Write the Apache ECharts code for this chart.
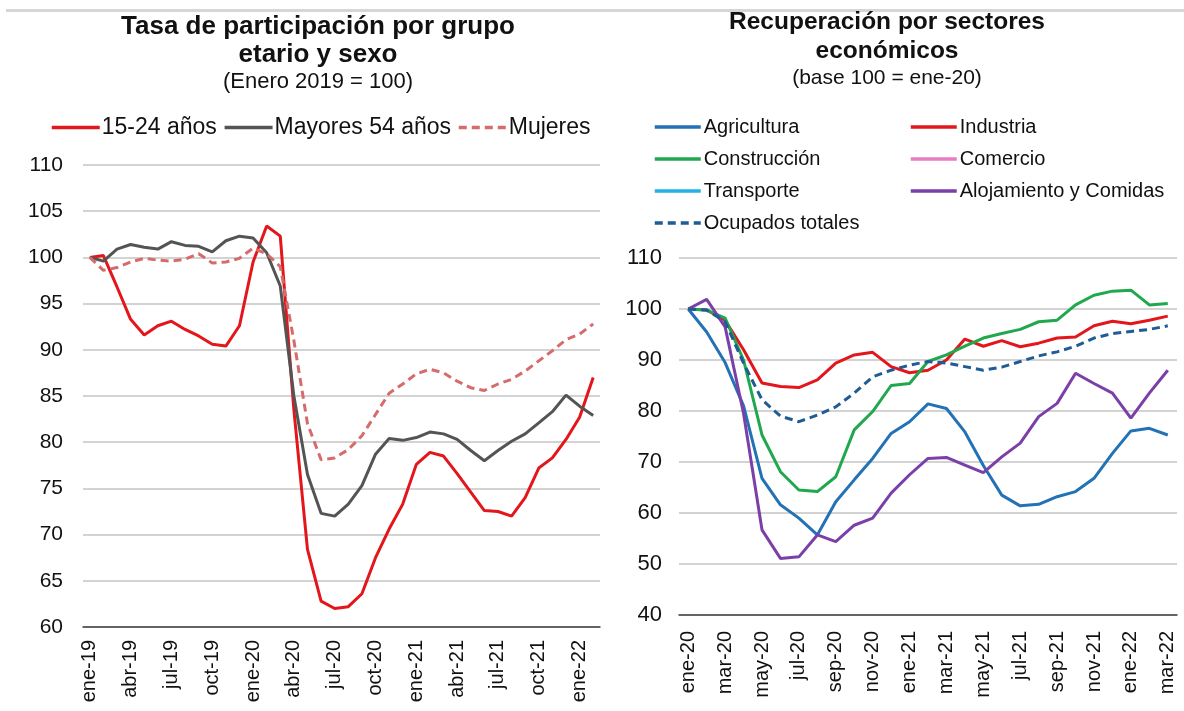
<!DOCTYPE html>
<html>
<head>
<meta charset="utf-8">
<script src="https://cdn.jsdelivr.net/npm/echarts@6/dist/echarts.min.js"></script>
<style>
html,body{margin:0;padding:0;background:#fff;}
#chart{width:1184px;height:711px;}
</style>
</head>
<body>
<div id="chart"></div>
<script>
// ---- Left chart data (Enero 2019 = 100) ----
const leftMonths = ['ene-19','feb-19','mar-19','abr-19','may-19','jun-19','jul-19','ago-19','sep-19','oct-19','nov-19','dic-19',
  'ene-20','feb-20','mar-20','abr-20','may-20','jun-20','jul-20','ago-20','sep-20','oct-20','nov-20','dic-20',
  'ene-21','feb-21','mar-21','abr-21','may-21','jun-21','jul-21','ago-21','sep-21','oct-21','nov-21','dic-21',
  'ene-22','feb-22'];
const youth15_24 = [100, 100.2, 96.8, 93.3, 91.6, 92.6, 93.1, 92.2, 91.5, 90.6, 90.4, 92.6,
  99.5, 103.4, 102.3, 83.5, 68.4, 62.8, 62.0, 62.2, 63.6, 67.5, 70.6, 73.3,
  77.6, 78.9, 78.5, 76.6, 74.6, 72.6, 72.5, 72.0, 74.0, 77.2, 78.3, 80.3,
  82.7, 87.0];
const mayores54 = [100, 99.6, 100.9, 101.4, 101.1, 100.9, 101.7, 101.3, 101.2, 100.6, 101.8, 102.3,
  102.1, 100.5, 96.9, 85.0, 76.5, 72.3, 72.0, 73.3, 75.3, 78.7, 80.4, 80.2,
  80.5, 81.1, 80.9, 80.3, 79.1, 78.0, 79.1, 80.1, 80.9, 82.1, 83.3, 85.1,
  83.9, 82.9];
const mujeres = [100, 98.6, 98.9, 99.5, 99.9, 99.7, 99.6, 99.8, 100.4, 99.4, 99.5, 99.9,
  101.0, 100.4, 99.0, 91.0, 82.0, 78.1, 78.3, 79.2, 80.7, 83.0, 85.3, 86.3,
  87.4, 87.9, 87.5, 86.6, 85.9, 85.6, 86.3, 86.8, 87.7, 88.8, 89.9, 91.1,
  91.7, 92.8];

// ---- Right chart data (base 100 = ene-20) ----
const rightMonths = ['ene-20','feb-20','mar-20','abr-20','may-20','jun-20','jul-20','ago-20','sep-20','oct-20','nov-20','dic-20',
  'ene-21','feb-21','mar-21','abr-21','may-21','jun-21','jul-21','ago-21','sep-21','oct-21','nov-21','dic-21',
  'ene-22','feb-22','mar-22'];
const agricultura = [100, 95.5, 89.5, 81.0, 66.8, 61.6, 59.0, 55.7, 62.2, 66.5, 70.7, 75.6,
  77.9, 81.4, 80.5, 75.9, 69.3, 63.5, 61.4, 61.7, 63.2, 64.2, 66.8, 71.7, 76.1, 76.6, 75.3];
const industria = [100, 99.8, 97.8, 92.0, 85.5, 84.8, 84.6, 86.1, 89.4, 91.0, 91.5, 88.7,
  87.5, 88.0, 90.0, 94.1, 92.7, 93.8, 92.6, 93.3, 94.3, 94.5, 96.7, 97.6, 97.1, 97.8, 98.6];
const construccion = [100, 99.8, 98.2, 90.0, 75.3, 68.1, 64.5, 64.2, 67.1, 76.3, 79.9, 85.0,
  85.4, 89.7, 91.0, 92.7, 94.3, 95.2, 96.0, 97.5, 97.8, 100.8, 102.7, 103.5, 103.7, 100.8, 101.1];
const comercio = [];
const transporte = [];
const alojamiento = [100, 101.9, 96.5, 79.5, 56.7, 51.1, 51.4, 55.7, 54.4, 57.6, 59.0, 63.9,
  67.5, 70.7, 70.9, 69.4, 67.9, 71.0, 73.7, 78.9, 81.5, 87.4, 85.4, 83.5, 78.6, 83.5, 88.0];
const ocupados = [100, 99.8, 97.5, 89.4, 82.2, 79.0, 77.9, 79.2, 80.8, 83.5, 86.7, 88.0,
  89.0, 89.7, 89.4, 88.7, 88.0, 88.6, 89.7, 90.8, 91.6, 92.7, 94.3, 95.2, 95.6, 96.0, 96.7];

const FONT = '"Liberation Sans", Arial, sans-serif';
const chart = echarts.init(document.getElementById('chart'));

function lineSeries(name, data, color, xi, dashed) {
  return {
    name: name, type: 'line', data: data, xAxisIndex: xi, yAxisIndex: xi,
    symbol: 'none', smooth: false,
    lineStyle: { color: color, width: 3, type: dashed ? [8, 5] : 'solid' },
    itemStyle: { color: color },
    emphasis: { disabled: true }
  };
}

const option = {
  backgroundColor: '#fff',
  animation: false,
  textStyle: { fontFamily: FONT },
  graphic: [
    { type: 'rect', shape: { x: 6, y: 9, width: 1178, height: 3 }, style: { fill: '#D6D6D6' }, silent: true }
  ],
  title: [
    { text: 'Tasa de participación por grupo\netario y sexo', left: 318, top: 13, textAlign: 'center', padding: 0,
      textStyle: { fontFamily: FONT, fontSize: 26, fontWeight: 'bold', color: '#111', lineHeight: 28 } },
    { text: '(Enero 2019 = 100)', left: 318, top: 71, textAlign: 'center', padding: 0,
      textStyle: { fontFamily: FONT, fontSize: 22, fontWeight: 'normal', color: '#111' } },
    { text: 'Recuperación por sectores\neconómicos', left: 887, top: 8, textAlign: 'center', padding: 0,
      textStyle: { fontFamily: FONT, fontSize: 24.5, fontWeight: 'bold', color: '#111', lineHeight: 29 } },
    { text: '(base 100 = ene-20)', left: 887, top: 68, textAlign: 'center', padding: 0,
      textStyle: { fontFamily: FONT, fontSize: 21, fontWeight: 'normal', color: '#111' } }
  ],
  legend: [
    { data: ['15-24 años', 'Mayores 54 años', 'Mujeres'], left: 50, top: 116, orient: 'horizontal', padding: 0,
      itemWidth: 48, itemHeight: 14, itemGap: 6, selectedMode: false,
      itemStyle: { opacity: 0 }, lineStyle: { width: 3.5 },
      textStyle: { fontFamily: FONT, fontSize: 23, color: '#111', padding: [0, 0, 0, -3] } },
    { data: ['Agricultura', 'Construcción', 'Transporte', 'Ocupados totales'], left: 653, top: 117, orient: 'vertical', padding: 0,
      itemWidth: 46, itemHeight: 14, itemGap: 12, selectedMode: false,
      itemStyle: { opacity: 0 }, lineStyle: { width: 3.5 },
      textStyle: { fontFamily: FONT, fontSize: 20, color: '#111', lineHeight: 20, padding: [0, 0, 0, -2] } },
    { data: ['Industria', 'Comercio', 'Alojamiento y Comidas'], left: 909, top: 117, orient: 'vertical', padding: 0,
      itemWidth: 46, itemHeight: 14, itemGap: 12, selectedMode: false,
      itemStyle: { opacity: 0 }, lineStyle: { width: 3.5 },
      textStyle: { fontFamily: FONT, fontSize: 20, color: '#111', lineHeight: 20, padding: [0, 0, 0, -2] } }
  ],
  grid: [
    { left: 83, right: 584, top: 165, bottom: 84 },
    { left: 679, right: 7, top: 258, bottom: 96 }
  ],
  xAxis: [
    { type: 'category', gridIndex: 0, data: leftMonths, boundaryGap: true,
      axisLine: { lineStyle: { color: '#404040', width: 1.5 } }, axisTick: { show: false },
      axisLabel: { interval: 2, rotate: 90, margin: 13, fontFamily: FONT, fontSize: 20, color: '#111' } },
    { type: 'category', gridIndex: 1, data: rightMonths, boundaryGap: true,
      axisLine: { lineStyle: { color: '#404040', width: 1.5 } }, axisTick: { show: false },
      axisLabel: { interval: 1, rotate: 90, margin: 16, fontFamily: FONT, fontSize: 20, color: '#111' } }
  ],
  yAxis: [
    { type: 'value', gridIndex: 0, min: 60, max: 110, interval: 5,
      axisLine: { show: false }, axisTick: { show: false },
      splitLine: { lineStyle: { color: '#C4C4C4', width: 1.5 } },
      axisLabel: { margin: 20, fontFamily: FONT, fontSize: 21, color: '#111' } },
    { type: 'value', gridIndex: 1, min: 40, max: 110, interval: 10,
      axisLine: { show: false }, axisTick: { show: false },
      splitLine: { lineStyle: { color: '#C4C4C4', width: 1.5 } },
      axisLabel: { margin: 17, fontFamily: FONT, fontSize: 22, color: '#111' } }
  ],
  series: [
    lineSeries('15-24 años', youth15_24, '#E3161C', 0, false),
    lineSeries('Mayores 54 años', mayores54, '#545454', 0, false),
    lineSeries('Mujeres', mujeres, '#D56B6B', 0, true),
    lineSeries('Agricultura', agricultura, '#2272B5', 1, false),
    lineSeries('Industria', industria, '#E3161C', 1, false),
    lineSeries('Construcción', construccion, '#21A84F', 1, false),
    lineSeries('Comercio', comercio, '#E87DC2', 1, false),
    lineSeries('Transporte', transporte, '#23B1E6', 1, false),
    lineSeries('Alojamiento y Comidas', alojamiento, '#7B3FA8', 1, false),
    lineSeries('Ocupados totales', ocupados, '#1F5B96', 1, true)
  ]
};
chart.setOption(option);
</script>
</body>
</html>
